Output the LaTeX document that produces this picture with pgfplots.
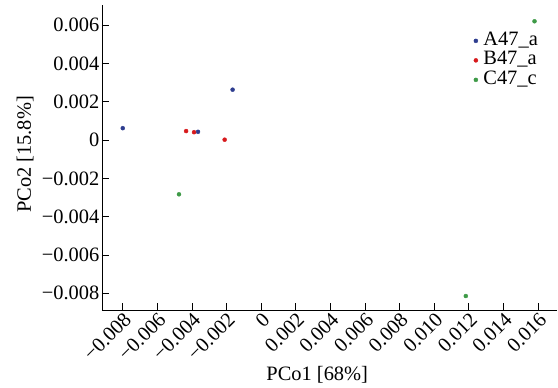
\documentclass[border=0pt]{standalone}
\usepackage{fontspec}
\setmainfont{Liberation Serif}
\usepackage{pgfplots}
\pgfplotsset{compat=1.18}
\definecolor{cA}{HTML}{2E3D8F}
\definecolor{cB}{HTML}{D7191C}
\definecolor{cC}{HTML}{3E9A47}
\newcommand{\fs}{\fontsize{20.5}{22}\selectfont}
\begin{document}
\begin{tikzpicture}[x=1bp,y=1bp]
\begin{axis}[
  scale only axis,
  width=455bp, height=305bp,
  xmin=-0.0092, xmax=0.0171,
  ymin=-0.00887, ymax=0.00705,
  axis x line*=bottom, axis y line*=left,
  axis line style={line width=0.8pt},
  tick align=inside,
  major tick length=7bp,
  tick style={black, line width=0.8pt},
  xtick={-0.008,-0.006,...,0.0161},
  ytick={-0.008,-0.006,...,0.0061},
  xticklabels={−0.008,−0.006,−0.004,−0.002,0,0.002,0.004,0.006,0.008,0.010,0.012,0.014,0.016},
  yticklabels={−0.008,−0.006,−0.004,−0.002,0,0.002,0.004,0.006},
  scaled ticks=false,
  x tick label style={rotate=45, anchor=north east, font=\fs, inner sep=1pt},
  y tick label style={font=\fs, inner sep=2.5bp},
  xlabel={PCo1 [68\%]}, ylabel={PCo2 [15.8\%]},
  label style={font=\fs},
  xlabel style={at={(axis description cs:0.473,-0.213)}, anchor=center},
  ylabel style={at={(axis description cs:-0.169,0.51)}, anchor=center},
  legend style={draw=none, fill=none, at={(0.815,0.915)}, anchor=north west, font=\fs, inner sep=0pt,
    nodes={text height=13bp, text depth=4.5bp, inner sep=1bp}},
  legend cell align=left,
  legend image code/.code={\fill[#1] (0.1cm,0cm) circle (2bp); \path[draw=none,fill=none] (0,-0.01cm) rectangle (0.33cm,0.01cm);},
]
\addplot[only marks, mark=*, mark size=2bp, color=cA] coordinates {(-0.0080,0.00062) (-0.00165,0.00263) (-0.00365,0.00043)};
\addlegendentry{A47\_a}
\addplot[only marks, mark=*, mark size=2bp, color=cB] coordinates {(-0.00434,0.00047) (-0.00388,0.00041) (-0.00211,0.00002)};
\addlegendentry{B47\_a}
\addplot[only marks, mark=*, mark size=2bp, color=cC] coordinates {(-0.00475,-0.00283) (0.01183,-0.00814) (0.0158,0.0062)};
\addlegendentry{C47\_c}
\end{axis}
\pgfresetboundingbox
\path (current axis.south west) ++(-102bp,-77bp) coordinate (bbA);
\path (current axis.north east) ++(1bp,5bp) coordinate (bbB);
\path[use as bounding box] (bbA) rectangle (bbB);
\end{tikzpicture}
\end{document}
